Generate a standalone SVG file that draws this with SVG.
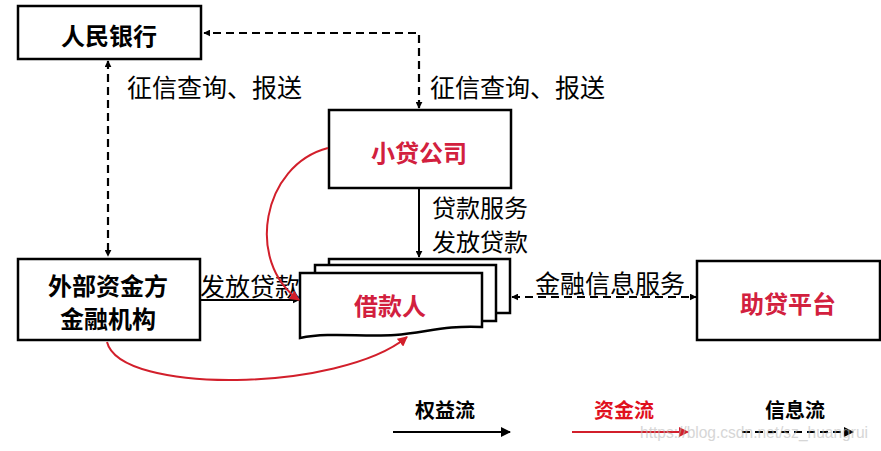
<svg xmlns="http://www.w3.org/2000/svg" width="881" height="451" viewBox="0 0 881 451">
<defs>
<style>
.box{fill:#fff;stroke:#000;stroke-width:2.5}
.t{font-family:"Microsoft YaHei","Noto Sans CJK SC","Noto Sans",sans-serif;font-size:24px;text-anchor:middle;dominant-baseline:central}
.lbl{font-family:"Microsoft YaHei","Noto Sans CJK SC","Noto Sans",sans-serif;font-size:25px;dominant-baseline:central;fill:#000}
.b{font-weight:bold;fill:#000}
.r{font-weight:bold;fill:#d2203e}
.sol{fill:none;stroke:#000;stroke-width:2}
.dash{fill:none;stroke:#000;stroke-width:2.2;stroke-dasharray:8,5}
.red{fill:none;stroke:#d21f2b;stroke-width:2}
.leg{font-size:20px}
</style>
<marker id="ab" viewBox="0 0 10 10" refX="9" refY="5" markerWidth="7" markerHeight="7" orient="auto-start-reverse" markerUnits="userSpaceOnUse"><path d="M0,0 L10,5 L0,10 z" fill="#000"/></marker>
<marker id="ar" viewBox="0 0 10 10" refX="9" refY="5" markerWidth="10" markerHeight="10" orient="auto" markerUnits="userSpaceOnUse"><path d="M0,0 L10,5 L0,10 z" fill="#d21f2b"/></marker>
<marker id="ak" viewBox="0 0 10 10" refX="9" refY="5" markerWidth="10" markerHeight="10" orient="auto-start-reverse" markerUnits="userSpaceOnUse"><path d="M0,0 L10,5 L0,10 z" fill="#000"/></marker>
</defs>

<g id="connector-labels">
<text class="lbl" x="127" y="86">征信查询、报送</text>
<text class="lbl" x="430" y="86">征信查询、报送</text>
<text class="lbl" x="432" y="206" style="font-size:24px">贷款服务</text>
<text class="lbl" x="432" y="240" style="font-size:24px">发放贷款</text>
<text class="lbl" x="200" y="285">发放贷款</text>
<text class="lbl" x="535" y="282">金融信息服务</text>
</g>

<g id="pboc"><rect class="box" x="18" y="6" width="183" height="53"/><text class="t b" x="109" y="34">人民银行</text></g>
<g id="xiaodai"><rect class="box" x="329" y="110" width="182" height="78"/><text class="t r" x="419" y="151">小贷公司</text></g>
<g id="external"><rect class="box" x="18" y="259" width="182" height="81"/><text class="t b" x="108" y="284">外部资金方</text><text class="t b" x="108" y="317">金融机构</text></g>
<g id="borrower">
<rect class="box" x="329" y="259" width="181" height="54" stroke-width="2"/>
<rect class="box" x="315" y="265" width="181" height="56" stroke-width="2"/>
<path class="box" stroke-width="2" d="M300,273 L482,273 L482,327 C445,325 425,333 395,335 C360,337 330,332 300,338 Z"/>
<text class="t r" x="390" y="304">借款人</text>
</g>
<g id="zhudai"><rect class="box" x="697" y="261" width="183" height="79"/><text class="t r" x="788" y="302">助贷平台</text></g>

<g id="connectors">
<path class="dash" d="M419,108 L419,33 L204,33" marker-start="url(#ab)" marker-end="url(#ab)"/>
<path class="dash" d="M108,61 L108,256" marker-start="url(#ab)" marker-end="url(#ab)"/>
<path class="sol" d="M419,189 L419,257" marker-end="url(#ab)"/>
<path class="sol" d="M201,300 L299,300" marker-end="url(#ab)"/>
<path class="dash" d="M512,297 L696,297" marker-start="url(#ab)" marker-end="url(#ab)"/>
<path class="red" d="M328,148 C262,165 245,262 299,300" marker-end="url(#ar)"/>
<path class="red" d="M107,342 C120,395 340,392 407,337" marker-end="url(#ar)"/>
</g>

<g id="legend">
<text class="t b leg" x="445" y="409">权益流</text>
<path class="sol" d="M393,432 L510,432" marker-end="url(#ak)"/>
<text class="t r leg" x="624" y="409" style="fill:#e0101e">资金流</text>
<path class="red" d="M572,432 L688,432" marker-end="url(#ar)"/>
<text class="t b leg" x="795" y="409">信息流</text>
<path class="dash" stroke-dasharray="5,5" d="M742,432 L853,432" marker-end="url(#ak)"/>
</g>
<text x="640" y="438" font-family="Liberation Sans, sans-serif" font-size="16" fill="#bbb" opacity="0.6" textLength="228" lengthAdjust="spacingAndGlyphs">https://blog.csdn.net/sz_huangrui</text>
</svg>
